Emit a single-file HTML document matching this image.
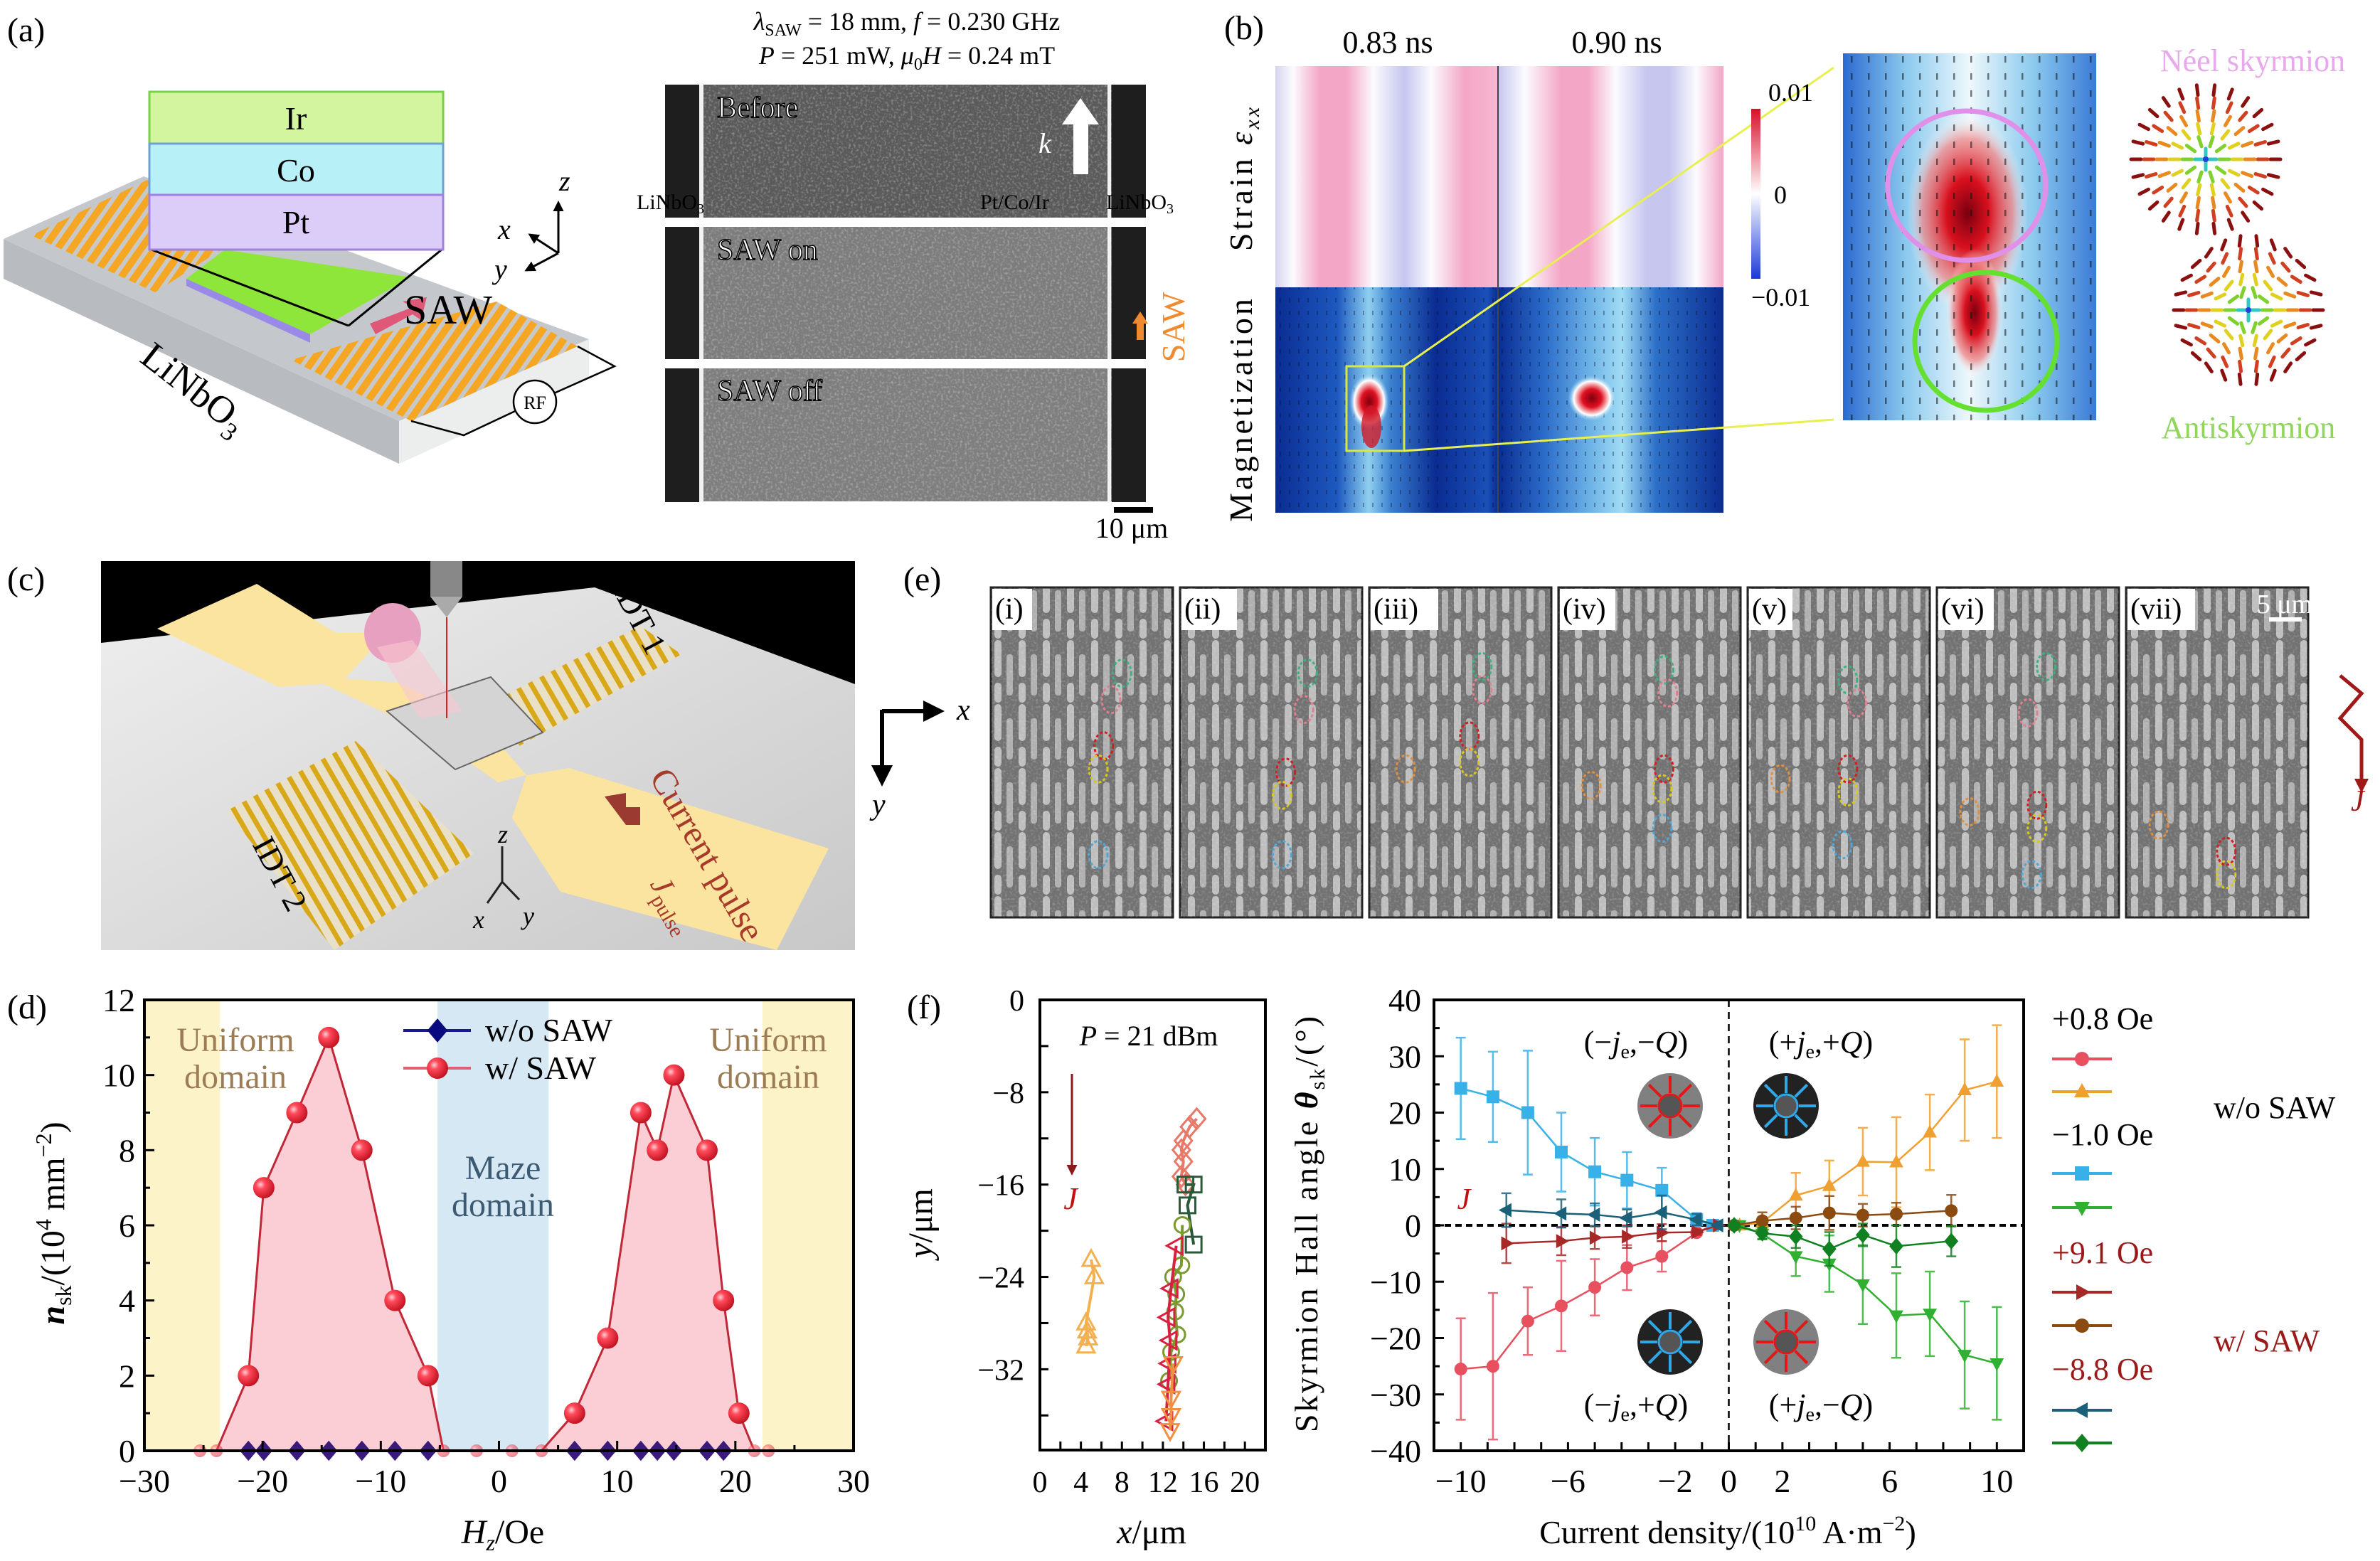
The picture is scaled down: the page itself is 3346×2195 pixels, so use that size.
<!DOCTYPE html>
<html><head><meta charset="utf-8">
<style>
html,body{margin:0;padding:0;background:#fff;}
svg{display:block;font-family:"Liberation Serif",serif;}
</style></head>
<body>
<svg id="fig" xmlns="http://www.w3.org/2000/svg" width="3346" height="2195" viewBox="0 0 3346 2195">
<defs>
  <filter id="noise" x="0" y="0" width="1" height="1">
    <feTurbulence type="fractalNoise" baseFrequency="0.3" numOctaves="2" seed="3"/>
    <feColorMatrix type="matrix" values="0 0 0 0 1  0 0 0 0 1  0 0 0 0 1  1.6 0 0 0 -0.75"/>
  </filter>
  <radialGradient id="ball" cx="0.35" cy="0.35" r="0.7">
    <stop offset="0" stop-color="#ffd0d4"/><stop offset="0.3" stop-color="#ff4a5a"/><stop offset="1" stop-color="#c0101e"/>
  </radialGradient>
  <linearGradient id="strain1" x1="0" x2="1" y1="0" y2="0">
    <stop offset="0" stop-color="#d4d4f2"/><stop offset="0.08" stop-color="#fbfbff"/><stop offset="0.2" stop-color="#f4a6c6"/><stop offset="0.32" stop-color="#f4a6c6"/><stop offset="0.44" stop-color="#fbfbff"/><stop offset="0.58" stop-color="#c6c6ef"/><stop offset="0.7" stop-color="#fbfbff"/><stop offset="0.85" stop-color="#f4a6c6"/><stop offset="1" stop-color="#f6b8d0"/>
  </linearGradient>
  <linearGradient id="strain2" x1="0" x2="1" y1="0" y2="0">
    <stop offset="0" stop-color="#c6c6ef"/><stop offset="0.12" stop-color="#fbfbff"/><stop offset="0.28" stop-color="#f4a6c6"/><stop offset="0.4" stop-color="#f4a6c6"/><stop offset="0.52" stop-color="#fbfbff"/><stop offset="0.66" stop-color="#c6c6ef"/><stop offset="0.76" stop-color="#c6c6ef"/><stop offset="0.88" stop-color="#fbfbff"/><stop offset="1" stop-color="#f4a6c6"/>
  </linearGradient>
  <linearGradient id="mag1" x1="0" x2="1" y1="0" y2="0">
    <stop offset="0" stop-color="#0a2c92"/><stop offset="0.28" stop-color="#1d5ac0"/><stop offset="0.42" stop-color="#8fd0f0"/><stop offset="0.52" stop-color="#3b80d0"/><stop offset="0.72" stop-color="#0a2c92"/><stop offset="0.95" stop-color="#1a50b8"/><stop offset="1" stop-color="#0a2c92"/>
  </linearGradient>
  <linearGradient id="mag2" x1="0" x2="1" y1="0" y2="0">
    <stop offset="0" stop-color="#0a2c92"/><stop offset="0.2" stop-color="#2a6ac8"/><stop offset="0.4" stop-color="#6ab0e6"/><stop offset="0.55" stop-color="#a0dcf4"/><stop offset="0.7" stop-color="#2d70c8"/><stop offset="1" stop-color="#0a2c92"/>
  </linearGradient>
  <linearGradient id="cbar" x1="0" x2="0" y1="0" y2="1">
    <stop offset="0" stop-color="#d8102a"/><stop offset="0.5" stop-color="#ffffff"/><stop offset="1" stop-color="#1a3ad8"/>
  </linearGradient>
  <linearGradient id="zoomBg" x1="0" x2="1" y1="0" y2="0">
    <stop offset="0" stop-color="#2a6ad0"/><stop offset="0.25" stop-color="#8ccaee"/><stop offset="0.5" stop-color="#eef8fc"/><stop offset="0.75" stop-color="#8ccaee"/><stop offset="1" stop-color="#3a7ad6"/>
  </linearGradient>
  <radialGradient id="redBlob" cx="0.5" cy="0.5" r="0.5">
    <stop offset="0" stop-color="#7a0010"/><stop offset="0.35" stop-color="#d8101e"/><stop offset="0.75" stop-color="#f08080" stop-opacity="0.7"/><stop offset="1" stop-color="#ffffff" stop-opacity="0"/>
  </radialGradient>
  <radialGradient id="spot" cx="0.5" cy="0.5" r="0.5">
    <stop offset="0" stop-color="#800010"/><stop offset="0.4" stop-color="#e01020"/><stop offset="0.75" stop-color="#ffffff"/><stop offset="1" stop-color="#80c8f0" stop-opacity="0"/>
  </radialGradient>
  <pattern id="dashes" width="24" height="24" patternUnits="userSpaceOnUse">
    <rect x="10" y="7" width="2.5" height="9" fill="#111" opacity="0.55"/>
  </pattern>
  <pattern id="dashes2" width="13" height="18" patternUnits="userSpaceOnUse">
    <rect x="5" y="5" width="2" height="6" fill="#0a0a20" opacity="0.35"/>
  </pattern>
  <pattern id="stripes" width="34" height="90" patternUnits="userSpaceOnUse">
    <rect width="34" height="90" fill="#727272"/>
    <rect x="4" y="0" width="10" height="52" rx="5" fill="#bebebe"/>
    <rect x="4" y="60" width="10" height="28" rx="5" fill="#bebebe"/>
    <rect x="21" y="20" width="9" height="58" rx="4" fill="#b0b0b0"/>
  </pattern>
  <pattern id="idt" width="16" height="16" patternUnits="userSpaceOnUse" patternTransform="rotate(35)">
    <rect width="16" height="16" fill="#f5a623"/><rect width="6" height="16" fill="#c8c8c8"/>
  </pattern>
  <pattern id="idtc" width="18" height="18" patternUnits="userSpaceOnUse" patternTransform="rotate(-30)">
    <rect width="18" height="18" fill="#e8e0c8"/><rect width="7" height="18" fill="#d8a818"/>
  </pattern>
  <linearGradient id="plane" x1="0" x2="1" y1="0" y2="1">
    <stop offset="0" stop-color="#f0f0f0"/><stop offset="1" stop-color="#c8c8c8"/>
  </linearGradient>
  <marker id="ah" viewBox="0 0 10 10" refX="8" refY="5" markerWidth="5" markerHeight="5" orient="auto"><path d="M0,0 L10,5 L0,10 z" fill="#000"/></marker>
  <marker id="ahr" viewBox="0 0 10 10" refX="8" refY="5" markerWidth="5" markerHeight="5" orient="auto"><path d="M0,0 L10,5 L0,10 z" fill="#8b1a1a"/></marker>
</defs>

<!-- ================= PANEL A ================= -->
<g>
  <text x="10" y="58" font-size="48">(a)</text>
  <g>
    <polygon points="5,336 561,592 561,652 5,392" fill="#b8bcc0"/>
    <polygon points="561,592 828,477 828,532 561,652" fill="#eceeee"/>
    <polygon points="5,336 202,248 828,477 561,592" fill="#c4c8cc"/>
    <polygon points="44,331 207,253 327,341 218,411" fill="url(#idt)"/>
    <polygon points="409,506 698,424 812,487 578,592" fill="url(#idt)"/>
    <polygon points="262,392 316,351 578,390 436,470" fill="#8fe63a"/>
    <polygon points="262,392 436,470 436,482 262,402" fill="#9a8ae8"/>
    <polygon points="520,455 580,432 566,424 600,418 592,450 580,442 528,470" fill="#e05878"/>
    <text x="568" y="455" font-size="58">SAW</text>
    <line x1="213" y1="351" x2="490" y2="458" stroke="#000" stroke-width="3"/>
    <line x1="621" y1="351" x2="490" y2="458" stroke="#000" stroke-width="3"/>
    <rect x="210" y="129" width="413" height="73" fill="#d4f5a0" stroke="#7ad04a" stroke-width="3"/>
    <rect x="210" y="202" width="413" height="72" fill="#b8f0f8" stroke="#70a0d0" stroke-width="3"/>
    <rect x="210" y="274" width="413" height="77" fill="#dcccf8" stroke="#a080e0" stroke-width="3"/>
    <text x="416" y="182" font-size="46" text-anchor="middle">Ir</text>
    <text x="416" y="255" font-size="46" text-anchor="middle">Co</text>
    <text x="416" y="328" font-size="46" text-anchor="middle">Pt</text>
    <text x="262" y="560" font-size="54" transform="rotate(38 262 560)" text-anchor="middle">LiNbO<tspan font-size="36" dy="12">3</tspan></text>
    <polyline points="812,487 864,515 752,565 652,612 578,592" fill="none" stroke="#000" stroke-width="2.5"/>
    <circle cx="752" cy="565" r="30" fill="#fff" stroke="#000" stroke-width="2.5"/>
    <text x="752" y="575" font-size="26" text-anchor="middle">RF</text>
    <line x1="785" y1="356" x2="785" y2="285" stroke="#000" stroke-width="3" marker-end="url(#ah)"/>
    <line x1="785" y1="356" x2="745" y2="330" stroke="#000" stroke-width="3" marker-end="url(#ah)"/>
    <line x1="785" y1="356" x2="740" y2="380" stroke="#000" stroke-width="3" marker-end="url(#ah)"/>
    <text x="786" y="268" font-size="40" font-style="italic">z</text>
    <text x="700" y="336" font-size="40" font-style="italic">x</text>
    <text x="695" y="392" font-size="40" font-style="italic">y</text>
  </g>
  <g>
    <text x="1275" y="42" font-size="36" text-anchor="middle"><tspan font-style="italic">λ</tspan><tspan font-size="24" dy="8">SAW</tspan><tspan dy="-8"> = 18 mm, </tspan><tspan font-style="italic">f</tspan> = 0.230 GHz</text>
    <text x="1275" y="90" font-size="36" text-anchor="middle"><tspan font-style="italic">P</tspan> = 251 mW, <tspan font-style="italic">μ</tspan><tspan font-size="24" dy="8">0</tspan><tspan dy="-8" font-style="italic">H</tspan> = 0.24 mT</text>
    <rect x="935" y="119" width="676" height="187" fill="#5a5a5a"/>
    <rect x="935" y="319" width="676" height="186" fill="#7c7c7c"/>
    <rect x="935" y="518" width="676" height="187" fill="#7e7e7e"/>
    <rect x="935" y="119" width="676" height="587" filter="url(#noise)" opacity="0.5"/>
    <rect x="935" y="119" width="48" height="587" fill="#1e1e1e"/>
    <rect x="1563" y="119" width="48" height="587" fill="#1e1e1e"/>
    <rect x="983" y="119" width="6" height="587" fill="#f2f2f2"/>
    <rect x="1557" y="119" width="5" height="587" fill="#f2f2f2"/>
    <rect x="935" y="306" width="676" height="13" fill="#fff"/>
    <rect x="935" y="505" width="676" height="13" fill="#fff"/>
    <text x="1008" y="165" font-size="42" fill="#fff" stroke="#000" stroke-width="1.5">Before</text>
    <text x="1008" y="365" font-size="42" fill="#fff" stroke="#000" stroke-width="1.5">SAW on</text>
    <text x="1008" y="563" font-size="42" fill="#fff" stroke="#000" stroke-width="1.5">SAW off</text>
    <polygon points="1509,245 1530,245 1530,175 1545,175 1519,138 1493,175 1509,175" fill="#fff"/>
    <text x="1460" y="215" font-size="40" fill="#fff" font-style="italic">k</text>
    <text x="895" y="294" font-size="30" fill="#000">LiNbO<tspan font-size="20" dy="6">3</tspan></text>
    <text x="1378" y="294" font-size="30" fill="#000">Pt/Co/Ir</text>
    <text x="1555" y="294" font-size="30" fill="#000">LiNbO<tspan font-size="20" dy="6">3</tspan></text>
    <polygon points="1598,478 1608,478 1608,455 1614,455 1603,438 1592,455 1598,455" fill="#f08a30"/>
    <text x="1665" y="460" font-size="46" fill="#f08a30" transform="rotate(-90 1665 460)" text-anchor="middle">SAW</text>
    <rect x="1566" y="713" width="55" height="8" fill="#000"/>
    <text x="1591" y="756" font-size="40" text-anchor="middle">10 μm</text>
  </g>
</g>

<!-- ================= PANEL B ================= -->
<g>
  <text x="1721" y="55" font-size="48">(b)</text>
  <text x="1951" y="74" font-size="44" text-anchor="middle">0.83 ns</text>
  <text x="2273" y="74" font-size="44" text-anchor="middle">0.90 ns</text>
  <rect x="1793" y="93" width="313" height="311" fill="url(#strain1)"/>
  <rect x="2106" y="93" width="317" height="311" fill="url(#strain2)"/>
  <rect x="1793" y="404" width="313" height="317" fill="url(#mag1)"/>
  <rect x="2106" y="404" width="317" height="317" fill="url(#mag2)"/>
  <rect x="1793" y="404" width="630" height="317" fill="url(#dashes2)"/>
  <ellipse cx="1925" cy="565" rx="28" ry="40" fill="url(#spot)"/>
  <ellipse cx="1928" cy="600" rx="14" ry="30" fill="#d01828" opacity="0.8"/>
  <ellipse cx="2238" cy="560" rx="34" ry="32" fill="url(#spot)"/>
  <line x1="2106" y1="93" x2="2106" y2="721" stroke="#444" stroke-width="2"/>
  <rect x="1893" y="515" width="81" height="119" fill="none" stroke="#d8e840" stroke-width="3"/>
  <line x1="1974" y1="515" x2="2578" y2="95" stroke="#e8f050" stroke-width="3"/>
  <line x1="1974" y1="634" x2="2578" y2="590" stroke="#e8f050" stroke-width="3"/>
  <text x="1760" y="250" font-size="46" transform="rotate(-90 1760 250)" text-anchor="middle" letter-spacing="4">Strain <tspan font-style="italic">ε</tspan><tspan font-size="30" dy="10" font-style="italic">xx</tspan></text>
  <text x="1760" y="575" font-size="46" transform="rotate(-90 1760 575)" text-anchor="middle" letter-spacing="4">Magnetization</text>
  <rect x="2462" y="153" width="13" height="239" fill="url(#cbar)"/>
  <text x="2486" y="142" font-size="36">0.01</text>
  <text x="2494" y="286" font-size="36">0</text>
  <text x="2462" y="430" font-size="36">−0.01</text>
  <g>
    <rect x="2591" y="75" width="356" height="516" fill="url(#zoomBg)"/>
    <ellipse cx="2766" cy="300" rx="85" ry="140" fill="url(#redBlob)"/>
    <ellipse cx="2776" cy="440" rx="40" ry="90" fill="url(#redBlob)"/>
    <rect x="2591" y="75" width="356" height="516" fill="url(#dashes)"/>
    <ellipse cx="2765" cy="261" rx="111" ry="105" fill="none" stroke="#e090e8" stroke-width="7"/>
    <ellipse cx="2792" cy="480" rx="100" ry="97" fill="none" stroke="#66e030" stroke-width="7"/>
  </g>
  <text x="3167" y="100" font-size="44" fill="#e8a8ec" text-anchor="middle">Néel skyrmion</text>
  <text x="3161" y="616" font-size="44" fill="#8fd65a" text-anchor="middle">Antiskyrmion</text>
  <g id="spins"></g>
</g>

<!-- ================= PANEL C ================= -->
<g>
  <text x="10" y="830" font-size="48">(c)</text>
  <rect x="142" y="789" width="1060" height="547" fill="url(#plane)"/>
  <polygon points="142,789 1202,789 1202,962 836,826 142,904" fill="#000"/>
  <polygon points="221,884 361,821 472,890 544,890 480,960 392,966" fill="#fbe3a0"/>
  <polygon points="430,950 560,960 680,1020 740,1090 700,1100 600,1030" fill="#fbe3a0"/>
  <polygon points="740,1090 800,1080 1165,1193 1092,1336 788,1254 720,1150" fill="#fbe3a0"/>
  <polygon points="666,1000 900,880 958,920 730,1049" fill="url(#idtc)"/>
  <polygon points="319,1140 500,1042 666,1200 470,1336" fill="url(#idtc)"/>
  <polygon points="544,1000 690,952 763,1030 640,1082" fill="#d4d4d4" stroke="#666" stroke-width="2"/>
  <ellipse cx="552" cy="890" rx="40" ry="42" fill="#e8a0c0"/>
  <polygon points="530,910 580,900 650,1000 590,1010" fill="#f8c8d0" opacity="0.6"/>
  <rect x="605" y="789" width="45" height="50" fill="#888"/>
  <polygon points="605,839 650,839 628,868" fill="#aaa"/>
  <line x1="628" y1="868" x2="628" y2="1010" stroke="#e02020" stroke-width="2"/>
  <polygon points="850,1120 880,1115 880,1135 900,1135 900,1160 880,1160" fill="#9a3a30"/>
  <text x="885" y="875" font-size="46" transform="rotate(62 885 875)" text-anchor="middle">IDT 1</text>
  <text x="380" y="1236" font-size="46" transform="rotate(62 380 1236)" text-anchor="middle">IDT 2</text>
  <text x="980" y="1210" font-size="50" fill="#a83a2a" transform="rotate(60 980 1210)" text-anchor="middle">Current pulse</text>
  <text x="934" y="1279" font-size="44" fill="#a83a2a" transform="rotate(60 934 1279)" text-anchor="middle" font-style="italic">J<tspan font-size="30" dy="10" font-style="normal">pulse</tspan></text>
  <line x1="706" y1="1240" x2="706" y2="1190" stroke="#222" stroke-width="3"/>
  <line x1="706" y1="1240" x2="685" y2="1270" stroke="#222" stroke-width="3"/>
  <line x1="706" y1="1240" x2="730" y2="1265" stroke="#222" stroke-width="3"/>
  <text x="700" y="1185" font-size="36" font-style="italic">z</text>
  <text x="665" y="1305" font-size="36" font-style="italic">x</text>
  <text x="735" y="1300" font-size="36" font-style="italic">y</text>
</g>

<!-- ================= PANEL E ================= -->
<g>
  <text x="1270" y="830" font-size="48">(e)</text>
  <line x1="1240" y1="1000" x2="1322" y2="1000" stroke="#000" stroke-width="6" marker-end="url(#ah)"/>
  <line x1="1240" y1="998" x2="1240" y2="1100" stroke="#000" stroke-width="6" marker-end="url(#ah)"/>
  <text x="1345" y="1012" font-size="42" font-style="italic">x</text>
  <text x="1226" y="1145" font-size="42" font-style="italic">y</text>
  <g id="epanels"></g>
  <polyline points="3290,950 3320,975 3290,1010 3320,1040 3320,1100" fill="none" stroke="#a01818" stroke-width="5"/>
  <polygon points="3310,1095 3330,1095 3320,1115" fill="#a01818"/>
  <text x="3305" y="1140" font-size="42" fill="#a01818" font-style="italic">J</text>
</g>

<!-- ================= PANEL D ================= -->
<g id="panelD">
  <text x="10" y="1432" font-size="48">(d)</text>
</g>
<!-- ================= PANEL F ================= -->
<g id="panelF1">
  <text x="1275" y="1432" font-size="48">(f)</text>
</g>
<g id="panelF2"></g>
</svg>

<script>
// ---------- Chart data: panel (d) ----------
const dFieldSaw = [-25.3,-23.9,-21.2,-19.9,-17.1,-14.4,-11.6,-8.8,-6.0,-4.7,-1.9,1.1,3.6,6.4,9.2,12.0,13.4,14.8,17.6,19.0,20.3,21.6,22.8];
const dDensitySaw = [0,0,2,7,9,11,8,4,2,0,0,0,0,1,3,9,8,10,8,4,1,0,0];
const dFieldNoSaw = [-21.2,-19.9,-17.1,-14.4,-11.6,-8.8,-6.0,6.4,9.2,12.0,13.4,14.8,17.6,19.0];
const dDensityNoSaw = [0,0,0,0,0,0,0,0,0,0,0,0,0,0];
const dXTicks = [-30,-20,-10,0,10,20,30];
const dXTickLabels = ["−30","−20","−10","0","10","20","30"];
const dYTicks = [0,2,4,6,8,10,12];
const dYTickLabels = ["0","2","4","6","8","10","12"];

// ---------- Chart data: panel (f) trajectories ----------
const trkOrangeUpX = [5.0,5.3,4.5,4.6,4.7,4.5];
const trkOrangeUpY = [-22.5,-24.0,-28.0,-28.7,-29.3,-30.0];
const trkPinkX = [15.3,14.6,14.0,13.8,14.0,13.8,14.2];
const trkPinkY = [-10.3,-11.0,-12.2,-13.0,-14.0,-15.3,-16.0];
const trkGreenSqX = [14.2,15.0,14.4,15.0];
const trkGreenSqY = [-16.0,-16.0,-17.8,-21.2];
const trkOliveX = [13.9,13.8,13.0,13.3,13.2,13.4,12.8,12.6];
const trkOliveY = [-19.5,-23.0,-24.0,-25.5,-27.0,-29.0,-30.5,-33.0];
const trkRedX = [13.3,12.8,12.5,12.7,12.6,12.5,12.3];
const trkRedY = [-21.3,-25.0,-27.5,-29.5,-31.5,-33.3,-36.5];
const trkOrangeDnX = [13.0,12.8,12.8,12.7];
const trkOrangeDnY = [-31.5,-34.5,-36.0,-37.3];
const f1XTicks = [0,4,8,12,16,20];
const f1XTickLabels = ["0","4","8","12","16","20"];
const f1YTicks = [0,-8,-16,-24,-32];
const f1YTickLabels = ["0","−8","−16","−24","−32"];

// ---------- Chart data: panel (f) Hall angle ----------
const hallXNeg = [-10,-8.8,-7.5,-6.25,-5,-3.8,-2.5,-1.2,-0.6];
const hallXPos = [0.4,1.25,2.5,3.75,5,6.25,7.5,8.8,10];
const hallXNegSaw = [-8.3,-6.25,-5,-3.8,-2.5,-1.2,-0.4];
const hallXPosSaw = [0.2,1.25,2.5,3.75,5,6.25,8.3];
const redCircY = [-25.5,-25,-17,-14.3,-11,-7.5,-5.5,-1.3,0];
const redCircErr = [9,13,6,8,5,4,2.7,0.5,0];
const orangeTriY = [0,0.5,5.3,7,11.3,11.2,16.5,24,25.5];
const orangeTriErr = [0,1,4,4.5,6,8,6.7,9,10];
const blueSqY = [24.3,22.8,20,13,9.5,8,6.2,1.0,0];
const blueSqErr = [9,8,11,7,6,5,4,1.2,0];
const greenTriY = [0,-1.5,-5.5,-6.8,-10.5,-16,-15.7,-23,-24.5];
const greenTriErr = [0,1,3.5,5,7,7.5,7.5,9.5,10];
const darkRedY = [-3.2,-2.8,-2.2,-2.0,-1.3,-1.2,0];
const darkRedErr = [3.5,2.5,2,2,1.5,0.5,0];
const brownY = [0,0.8,1.3,2.2,1.8,2.0,2.6];
const brownErr = [0,1.5,2,3,2,2,2.8];
const tealY = [2.7,2.1,1.9,1.3,2.3,1.0,0];
const tealErr = [3,2.5,2,1.5,3,1,0];
const greenDiaY = [0,-1.4,-2.0,-4.2,-1.7,-3.7,-2.8];
const greenDiaErr = [0,1,2,3,2,3.7,2.7];
const f2XTicks = [-10,-6,-2,0,2,6,10];
const f2XTickLabels = ["−10","−6","−2","0","2","6","10"];
const f2YTicks = [-40,-30,-20,-10,0,10,20,30,40];
const f2YTickLabels = ["−40","−30","−20","−10","0","10","20","30","40"];

const NS = "http://www.w3.org/2000/svg";
function mk(tag, attrs, parent) {
  const e = document.createElementNS(NS, tag);
  for (const k in attrs) e.setAttribute(k, attrs[k]);
  parent.appendChild(e);
  return e;
}
function txt(str, attrs, parent) {
  const e = mk("text", attrs, parent);
  e.textContent = str;
  return e;
}
function marker(shape, cx, cy, s, fill, stroke, sw, parent) {
  let e;
  if (shape === "circle") e = mk("circle", {cx:cx, cy:cy, r:s, fill:fill, stroke:stroke, "stroke-width":sw}, parent);
  else if (shape === "square") e = mk("rect", {x:cx-s, y:cy-s, width:2*s, height:2*s, fill:fill, stroke:stroke, "stroke-width":sw}, parent);
  else {
    let p;
    if (shape === "up") p = [[0,-1.2],[1.1,0.8],[-1.1,0.8]];
    else if (shape === "down") p = [[0,1.2],[1.1,-0.8],[-1.1,-0.8]];
    else if (shape === "left") p = [[-1.2,0],[0.8,-1.1],[0.8,1.1]];
    else if (shape === "right") p = [[1.2,0],[-0.8,-1.1],[-0.8,1.1]];
    else p = [[0,-1.3],[1.1,0],[0,1.3],[-1.1,0]];
    e = mk("polygon", {points: p.map(q => (cx+q[0]*s)+","+(cy+q[1]*s)).join(" "), fill:fill, stroke:stroke, "stroke-width":sw}, parent);
  }
  return e;
}

// ======================= PANEL D =======================
(function(){
  const g = document.getElementById("panelD");
  const L=203, R=1200, T=1406, B=2040;
  const xD = v => L + (v + 30) / 60 * (R - L);
  const yD = v => B - v / 12 * (B - T);
  let r = mk("rect", {x:xD(-30), y:T, width:xD(-23.6)-xD(-30), height:B-T, fill:"#fdf3c8"}, g);
  
  
  r = mk("rect", {x:xD(22.3), y:T, width:xD(30)-xD(22.3), height:B-T, fill:"#fdf3c8"}, g);
  
  
  r = mk("rect", {x:xD(-5.2), y:T, width:xD(4.2)-xD(-5.2), height:B-T, fill:"#d6e8f4"}, g);
  
  
  let pts = dFieldSaw.map((h,i) => xD(h)+","+yD(dDensitySaw[i])).join(" ");
  const area = mk("polygon", {points: xD(dFieldSaw[0])+","+yD(0)+" "+pts+" "+xD(dFieldSaw[dFieldSaw.length-1])+","+yD(0), fill:"#fac4cc", opacity:"0.85"}, g);
  
  
  const line = mk("polyline", {points: pts, fill:"none", stroke:"#c02838", "stroke-width":3}, g);
  
  
  dFieldNoSaw.forEach((h,i) => {
    const m = marker("diamond", xD(h), yD(dDensityNoSaw[i]), 11, "#3a1a7a", "none", 0, g);
    
    
  });
  dFieldSaw.forEach((h,i) => {
    const m = mk("circle", {cx:xD(h), cy:yD(dDensitySaw[i]), r:dDensitySaw[i] === 0 ? 9 : 15, fill:"url(#ball)", opacity: dDensitySaw[i] === 0 ? 0.5 : 1}, g);
    
    
  });
  const fr = mk("rect", {x:L, y:T, width:R-L, height:B-T, fill:"none", stroke:"#000", "stroke-width":4}, g);
  
  
  for (let v=-30; v<=30; v+=5) {
    const tk = mk("line", {x1:xD(v), x2:xD(v), y1:B, y2:B-(v%10===0?14:8), stroke:"#000", "stroke-width":3}, g);
    
    
  }
  for (let v=0; v<=12; v+=1) {
    const tk = mk("line", {x1:L, x2:L+(v%2===0?14:8), y1:yD(v), y2:yD(v), stroke:"#000", "stroke-width":3}, g);
    
    
  }
  dXTicks.forEach((v,i) => {
    const t = txt(dXTickLabels[i], {x:xD(v), y:2098, "font-size":46, "text-anchor":"middle"}, g);
    
    
  });
  dYTicks.forEach((v,i) => {
    const t = txt(dYTickLabels[i], {x:190, y:yD(v)+16, "font-size":46, "text-anchor":"end"}, g);
    
    
  });
  let t = txt("", {x:707, y:2170, "font-size":48, "text-anchor":"middle"}, g);
  t.innerHTML = '<tspan font-style="italic">H</tspan><tspan font-size="32" dy="10" font-style="italic">z</tspan><tspan dy="-10">/Oe</tspan>';
  
  
  t = txt("", {x:90, y:1720, "font-size":48, "text-anchor":"middle", transform:"rotate(-90 90 1720)"}, g);
  t.innerHTML = '<tspan font-style="italic" font-weight="bold">n</tspan><tspan font-size="32" dy="10">sk</tspan><tspan dy="-10">/(10</tspan><tspan font-size="32" dy="-18">4</tspan><tspan dy="18"> mm</tspan><tspan font-size="32" dy="-18">−2</tspan><tspan dy="18">)</tspan>';
  
  
  [["Uniform",331,1478,"#9c7c55"],["domain",331,1530,"#9c7c55"],["Uniform",1080,1478,"#9c7c55"],["domain",1080,1530,"#9c7c55"],["Maze",707,1658,"#3d5a73"],["domain",707,1710,"#3d5a73"]].forEach(a => {
    const tt = txt(a[0], {x:a[1], y:a[2], "font-size":48, fill:a[3], "text-anchor":"middle"}, g);
    
    
  });
  let lg = mk("line", {x1:567, x2:662, y1:1449, y2:1449, stroke:"#1a1a8a", "stroke-width":4}, g);
  
  
  lg = marker("diamond", 615, 1449, 13, "#0a0a80", "none", 0, g);
  
  
  lg = txt("w/o SAW", {x:682, y:1464, "font-size":46}, g);
  
  
  lg = mk("line", {x1:567, x2:662, y1:1502, y2:1502, stroke:"#e06070", "stroke-width":4}, g);
  
  
  lg = mk("circle", {cx:615, cy:1502, r:15, fill:"url(#ball)"}, g);
  
  
  lg = txt("w/ SAW", {x:682, y:1517, "font-size":46}, g);
  
  
})();

// ======================= PANEL F LEFT =======================
(function(){
  const g = document.getElementById("panelF1");
  const L=1462, R=1779, T=1406, B=2039;
  const xL = v => L + v / 22 * (R - L);
  const yL = v => T + (-v) / 39 * (B - T);
  const fr = mk("rect", {x:L, y:T, width:R-L, height:B-T, fill:"none", stroke:"#000", "stroke-width":4}, g);
  
  
  for (let v=0; v<=22; v+=2) {
    const tk = mk("line", {x1:xL(v), x2:xL(v), y1:B, y2:B-12, stroke:"#000", "stroke-width":3}, g);
    
    
  }
  for (let v=0; v>=-36; v-=4) {
    const tk = mk("line", {x1:L, x2:L+12, y1:yL(v), y2:yL(v), stroke:"#000", "stroke-width":3}, g);
    
    
  }
  f1XTicks.forEach((v,i) => {
    const t = txt(f1XTickLabels[i], {x:xL(v), y:2098, "font-size":42, "text-anchor":"middle"}, g);
    
    
  });
  f1YTicks.forEach((v,i) => {
    const t = txt(f1YTickLabels[i], {x:1440, y:yL(v)+15, "font-size":42, "text-anchor":"end"}, g);
    
    
  });
  let t = txt("", {x:1619, y:2170, "font-size":48, "text-anchor":"middle"}, g);
  t.innerHTML = '<tspan font-style="italic">x</tspan>/μm';
  
  
  t = txt("", {x:1310, y:1720, "font-size":48, "text-anchor":"middle", transform:"rotate(-90 1310 1720)"}, g);
  t.innerHTML = '<tspan font-style="italic">y</tspan>/μm';
  
  
  t = txt("", {x:1615, y:1470, "font-size":40, "text-anchor":"middle"}, g);
  t.innerHTML = '<tspan font-style="italic">P</tspan> = 21 dBm';
  
  
  const ar = mk("line", {x1:1507, y1:1510, x2:1507, y2:1650, stroke:"#8b1a1a", "stroke-width":3, "marker-end":"url(#ahr)"}, g);
  
  
  t = txt("J", {x:1505, y:1700, "font-size":44, "font-style":"italic", fill:"#c01010", "text-anchor":"middle"}, g);
  
  
  const tracks = [
    [trkOrangeUpX, trkOrangeUpY, "up", "#f4b050", "track-orange-up"],
    [trkPinkX, trkPinkY, "diamond", "#e87868", "track-pink-diamond"],
    [trkGreenSqX, trkGreenSqY, "square", "#2a5a3a", "track-green-square"],
    [trkOliveX, trkOliveY, "circle", "#7a9a30", "track-olive-circle"],
    [trkRedX, trkRedY, "left", "#d82040", "track-red-triangle"],
    [trkOrangeDnX, trkOrangeDnY, "down", "#f09040", "track-orange-down"]
  ];
  tracks.forEach(tr => {
    const pl = mk("polyline", {points: tr[0].map((x,i) => xL(x)+","+yL(tr[1][i])).join(" "), fill:"none", stroke:tr[3], "stroke-width":4}, g);
    
    
    tr[0].forEach((x,i) => {
      const m = marker(tr[2], xL(x), yL(tr[1][i]), 11, "none", tr[3], 3, g);
      
      
    });
  });
})();

// ======================= PANEL F RIGHT =======================
(function(){
  const g = document.getElementById("panelF2");
  const L=2016, R=2845, T=1406, B=2040;
  const xR = v => L + (v + 11) / 22 * (R - L);
  const yR = v => B - (v + 40) / 80 * (B - T);
  [[2348,1555,"#808080","#e01818"],[2511,1555,"#222","#30a8e8"],[2348,1887,"#222","#30a8e8"],[2511,1887,"#808080","#e01818"]].forEach(s => {
    const c = mk("ellipse", {cx:s[0], cy:s[1], rx:46, ry:46, fill:s[2]}, g);
    
    
    const c2 = mk("circle", {cx:s[0], cy:s[1], r:16, fill:"#555", stroke:s[3], "stroke-width":3}, g);
    
    
    for (let k=0;k<8;k++){
      const a = k*Math.PI/4;
      const ln = mk("line", {x1:s[0]+18*Math.cos(a), y1:s[1]+18*Math.sin(a), x2:s[0]+42*Math.cos(a), y2:s[1]+42*Math.sin(a), stroke:s[3], "stroke-width":4}, g);
      
      
    }
  });
  let d = mk("line", {x1:xR(0), x2:xR(0), y1:T, y2:B, stroke:"#000", "stroke-width":2.5, "stroke-dasharray":"10 7"}, g);
  
  
  d = mk("line", {x1:L, x2:R, y1:yR(0), y2:yR(0), stroke:"#000", "stroke-width":4, "stroke-dasharray":"9 6"}, g);
  
  
  const series = [
    [hallXNeg, redCircY, redCircErr, "circle", "#e85060", "series-plus-0p8-neg"],
    [hallXPos, orangeTriY, orangeTriErr, "up", "#f0a030", "series-plus-0p8-pos"],
    [hallXNeg, blueSqY, blueSqErr, "square", "#38b0e8", "series-minus-1p0-neg"],
    [hallXPos, greenTriY, greenTriErr, "down", "#30b030", "series-minus-1p0-pos"],
    [hallXNegSaw, darkRedY, darkRedErr, "right", "#a82828", "series-plus-9p1-neg"],
    [hallXPosSaw, brownY, brownErr, "circle", "#8a4a10", "series-plus-9p1-pos"],
    [hallXNegSaw, tealY, tealErr, "left", "#1a6078", "series-minus-8p8-neg"],
    [hallXPosSaw, greenDiaY, greenDiaErr, "diamond", "#108020", "series-minus-8p8-pos"]
  ];
  series.forEach(s => {
    s[0].forEach((x,i) => {
      if (s[2][i] > 0) {
        const e = mk("path", {d:"M"+xR(x)+","+yR(s[1][i]-s[2][i])+"V"+yR(s[1][i]+s[2][i])+"M"+(xR(x)-7)+","+yR(s[1][i]-s[2][i])+"h14M"+(xR(x)-7)+","+yR(s[1][i]+s[2][i])+"h14", stroke:s[4], "stroke-width":2.5, fill:"none", opacity:0.85}, g);
        
        
      }
    });
    const pl = mk("polyline", {points: s[0].map((x,i) => xR(x)+","+yR(s[1][i])).join(" "), fill:"none", stroke:s[4], "stroke-width":2.5}, g);
    
    
    s[0].forEach((x,i) => {
      const m = marker(s[3], xR(x), yR(s[1][i]), 9, s[4], "none", 0, g);
      
      
    });
  });
  const fr = mk("rect", {x:L, y:T, width:R-L, height:B-T, fill:"none", stroke:"#000", "stroke-width":4}, g);
  
  
  for (let v=-10; v<=10; v+=1) {
    const tk = mk("line", {x1:xR(v), x2:xR(v), y1:B, y2:B-12, stroke:"#000", "stroke-width":3}, g);
    
    
  }
  for (let v=-40; v<=40; v+=5) {
    const tk = mk("line", {x1:L, x2:L+(v%10===0?14:8), y1:yR(v), y2:yR(v), stroke:"#000", "stroke-width":3}, g);
    
    
  }
  f2XTicks.forEach((v,i) => {
    const t = txt(f2XTickLabels[i], {x:xR(v), y:2098, "font-size":46, "text-anchor":"middle"}, g);
    
    
  });
  f2YTicks.forEach((v,i) => {
    const t = txt(f2YTickLabels[i], {x:1998, y:yR(v)+16, "font-size":46, "text-anchor":"end"}, g);
    
    
  });
  let t = txt("", {x:2429, y:2170, "font-size":46, "text-anchor":"middle"}, g);
  t.innerHTML = 'Current density/(10<tspan font-size="30" dy="-18">10</tspan><tspan dy="18"> A·m</tspan><tspan font-size="30" dy="-18">−2</tspan><tspan dy="18">)</tspan>';
  
  
  t = txt("", {x:1852, y:1720, "font-size":46, "text-anchor":"middle", "letter-spacing":3, transform:"rotate(-90 1852 1720)"}, g);
  t.innerHTML = 'Skyrmion Hall angle <tspan font-style="italic" font-weight="bold">θ</tspan><tspan font-size="30" dy="10">sk</tspan><tspan dy="-10">/(°)</tspan>';
  
  
  [["(−j","−Q)",2300,1480],["(+j","+Q)",2560,1480],["(−j","+Q)",2300,1990],["(+j","−Q)",2560,1990]].forEach(q => {
    const tt = txt("", {x:q[2], y:q[3], "font-size":44, "text-anchor":"middle"}, g);
    tt.innerHTML = q[0].replace("j",'<tspan font-style="italic">j</tspan>') + '<tspan font-size="28" dy="8">e</tspan><tspan dy="-8">,' + q[1].replace("Q",'<tspan font-style="italic">Q</tspan>') + '</tspan>';
    
    
  });
  t = txt("J", {x:2058, y:1700, "font-size":42, "font-style":"italic", fill:"#c01010", "text-anchor":"middle"}, g);
  
  
  const legItems = [
    ["text","+0.8 Oe",1447,"#000"],["circle",null,1489,"#e85060"],["up",null,1535,"#f0a030"],
    ["text","−1.0 Oe",1610,"#000"],["square",null,1650,"#38b0e8"],["down",null,1698,"#30b030"],
    ["text","+9.1 Oe",1776,"#9a1a1a"],["right",null,1817,"#a82828"],["circle",null,1864,"#8a4a10"],
    ["text","−8.8 Oe",1940,"#9a1a1a"],["left",null,1983,"#1a6078"],["diamond",null,2029,"#108020"]
  ];
  legItems.forEach(it => {
    if (it[0] === "text") {
      const lt = txt(it[1], {x:2885, y:it[2], "font-size":44, fill:it[3]}, g);
      
      
    } else {
      const ll = mk("line", {x1:2885, x2:2969, y1:it[2], y2:it[2], stroke:it[3], "stroke-width":4}, g);
      
      
      const lm = marker(it[0], 2927, it[2], 10, it[3], "none", 0, g);
      
      
    }
  });
  t = txt("w/o SAW", {x:3112, y:1572, "font-size":44}, g);
  
  
  t = txt("w/ SAW", {x:3112, y:1900, "font-size":44, fill:"#9a1a1a"}, g);
  
  
})();

// ======================= PANEL E images =======================
(function(){
  const g = document.getElementById("epanels");
  const labels = ["(i)","(ii)","(iii)","(iv)","(v)","(vi)","(vii)"];
  const circ = [
    [[0.72,0.26,"#40b080"],[0.66,0.34,"#e08090"],[0.62,0.48,"#d02020"],[0.59,0.55,"#d8c820"],[0.59,0.81,"#50a8d8"]],
    [[0.70,0.26,"#40b080"],[0.68,0.37,"#e08090"],[0.58,0.56,"#d02020"],[0.56,0.63,"#d8c820"],[0.56,0.81,"#50a8d8"]],
    [[0.62,0.24,"#40b080"],[0.62,0.31,"#e08090"],[0.55,0.45,"#d02020"],[0.55,0.53,"#d8c820"],[0.2,0.55,"#e09040"]],
    [[0.58,0.25,"#40b080"],[0.6,0.32,"#e08090"],[0.58,0.55,"#d02020"],[0.57,0.61,"#d8c820"],[0.57,0.73,"#50a8d8"],[0.18,0.6,"#e09040"]],
    [[0.55,0.28,"#40b080"],[0.6,0.35,"#e08090"],[0.55,0.55,"#d02020"],[0.55,0.62,"#d8c820"],[0.52,0.78,"#50a8d8"],[0.18,0.58,"#e09040"]],
    [[0.6,0.24,"#40b080"],[0.5,0.38,"#e08090"],[0.55,0.66,"#d02020"],[0.55,0.73,"#d8c820"],[0.52,0.87,"#50a8d8"],[0.18,0.68,"#e09040"]],
    [[0.55,0.8,"#d02020"],[0.55,0.87,"#d8c820"],[0.18,0.72,"#e09040"]]
  ];
  const X0=1393, W=256, P=266, Y0=826, H=464;
  for (let i=0;i<7;i++){
    const x = X0 + i*P;
    const r = mk("rect", {x:x, y:Y0, width:W, height:H, fill:"url(#stripes)", stroke:"#222", "stroke-width":3}, g);
    
    
    const nz = mk("rect", {x:x, y:Y0, width:W, height:H, filter:"url(#noise)", opacity:0.35}, g);
    
    
    const b = mk("rect", {x:x+2, y:Y0+2, width:i===0?56:(labels[i].length*17+10), height:58, fill:"#fff"}, g);
    
    
    const t = txt(labels[i], {x:x+6, y:Y0+44, "font-size":42}, g);
    
    
    circ[i].forEach(c => {
      const e = mk("ellipse", {cx:x+c[0]*W, cy:Y0+c[1]*H, rx:13, ry:19, fill:"none", stroke:c[2], "stroke-width":3, "stroke-dasharray":"4 3"}, g);
      
      
    });
  }
  const sb = mk("rect", {x:3190, y:868, width:46, height:6, fill:"#fff"}, g);
  
  
  const st = txt("5 μm", {x:3212, y:862, "font-size":38, fill:"#fff", "text-anchor":"middle"}, g);
  
  
})();

// ======================= spin textures (b) =======================
(function(){
  const g = document.getElementById("spins");
  const centers = [[3101,224,1],[3161,436,-1]];
  const cols = ["#8a1010","#d04020","#e88a20","#e0d020","#80d030","#30c8c0"];
  centers.forEach(c => {
    for (let ring=5; ring>=0; ring--) {
      const rr = 8 + ring*18;
      const n = ring===0 ? 4 : 6 + ring*4;
      for (let k=0;k<n;k++){
        const a = k*2*Math.PI/n;
        const dir = c[2]>0 ? a : -a;
        const px = c[0] + rr*Math.cos(a), py = c[1] + rr*Math.sin(a);
        const e = mk("line", {x1:px-7*Math.cos(dir), y1:py-7*Math.sin(dir), x2:px+7*Math.cos(dir), y2:py+7*Math.sin(dir), stroke:cols[5-ring], "stroke-width":5, "stroke-linecap":"round"}, g);
        
        
      }
    }
    const core = mk("circle", {cx:c[0], cy:c[1], r:4, fill:"#2040e0"}, g);
    
    
  });
})();
</script>
</body></html>
